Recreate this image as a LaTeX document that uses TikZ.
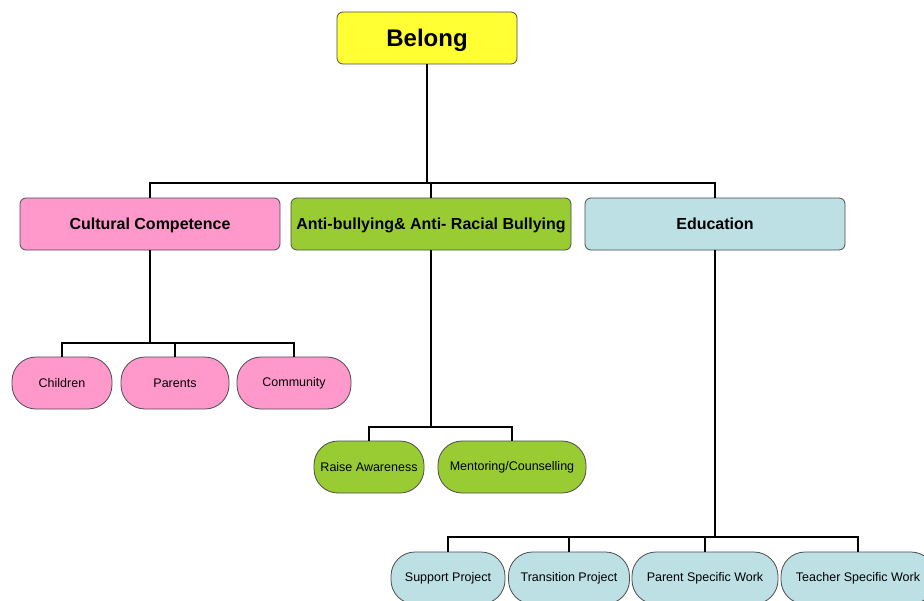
\documentclass[tikz,border=0pt]{standalone}
\usepackage{fontspec}
\setmainfont{Liberation Sans}
\definecolor{topyellow}{HTML}{FFFF33}
\definecolor{ccpink}{HTML}{FF99CC}
\definecolor{abgreen}{HTML}{99CC33}
\definecolor{edblue}{HTML}{BCE0E3}
\begin{document}
\begin{tikzpicture}[x=1pt,y=-1pt,
    conn/.style={line width=2pt,black},
    topbox/.style={draw=black!70,rounded corners=6pt,line width=0.8pt,minimum height=52pt,inner sep=0pt,text depth=1pt,font=\fontsize{16}{18}\selectfont\bfseries},
    leaf/.style={draw=black!70,rounded corners=24pt,line width=0.8pt,minimum height=52pt,inner sep=1pt,font=\fontsize{12.5}{14}\selectfont}]
    \clip (0,0) rectangle (924,600);
    \fill[white] (0,0) rectangle (924,600);

    \node[topbox,fill=topyellow,minimum width=180pt,font=\fontsize{24}{28}\selectfont\bfseries] (belong) at (427,38) {Belong};

    \node[topbox,fill=ccpink,minimum width=260pt] (cc) at (150,224) {Cultural Competence};
    \node[topbox,fill=abgreen,minimum width=280pt] (ab) at (431,224) {Anti-bullying\& Anti- Racial Bullying};
    \node[topbox,fill=edblue,minimum width=260pt] (ed) at (715,224) {Education};

    \node[leaf,fill=ccpink,minimum width=100pt] (children) at (62,383) {Children};
    \node[leaf,fill=ccpink,minimum width=108pt] (parents) at (175,383) {Parents};
    \node[leaf,fill=ccpink,minimum width=114pt] (community) at (294,383) {Community};

    \node[leaf,fill=abgreen,minimum width=110pt] (raise) at (369,467) {Raise Awareness};
    \node[leaf,fill=abgreen,minimum width=148pt] (mentor) at (512,467) {Mentoring/Counselling};

    \node[leaf,fill=edblue,minimum width=114pt] (support) at (448,578) {Support Project};
    \node[leaf,fill=edblue,minimum width=121pt] (transition) at (569,578) {Transition Project};
    \node[leaf,fill=edblue,minimum width=146pt] (parentwork) at (705,578) {Parent Specific Work};
    \node[leaf,fill=edblue,minimum width=154pt] (teacherwork) at (858,578) {Teacher Specific Work};

    % junctions of the tree
    \coordinate (jtop) at (427,183);
    \coordinate (jcc) at (150,343);
    \coordinate (jab) at (431,427);
    \coordinate (jed) at (715,537);

    \draw[conn] (belong.south) -- (jtop);
    \foreach \n in {cc,ab,ed}
        \draw[conn] (jtop) -| (\n.north);

    \draw[conn] (cc.south) -- (jcc);
    \foreach \n in {children,parents,community}
        \draw[conn] (jcc) -| (\n.north);

    \draw[conn] (ab.south) -- (jab);
    \foreach \n in {raise,mentor}
        \draw[conn] (jab) -| (\n.north);

    \draw[conn] (ed.south) -- (jed);
    \foreach \n in {support,transition,parentwork,teacherwork}
        \draw[conn] (jed) -| (\n.north);
\end{tikzpicture}
\end{document}
